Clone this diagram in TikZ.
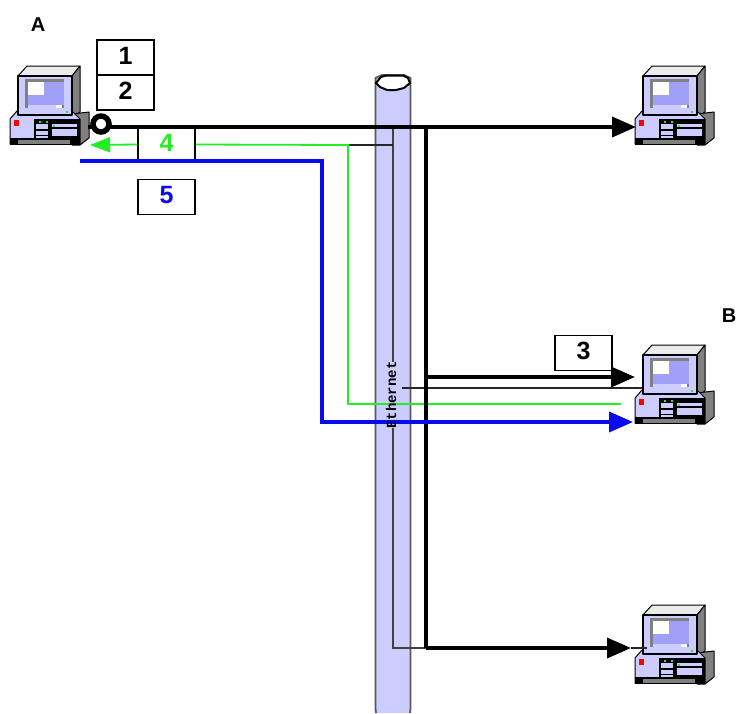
\documentclass[tikz,border=0pt]{standalone}
\usepackage{fontspec}
\setmainfont{Liberation Sans}
\setmonofont{Liberation Mono}
\usetikzlibrary{arrows.meta}
\definecolor{lav}{HTML}{CCCCFF}
\definecolor{peri}{HTML}{A0A0F8}
\definecolor{pcgray}{HTML}{808080}
\definecolor{lgreen}{HTML}{22EE22}
\definecolor{blueline}{HTML}{0A0AEE}
\tikzset{
  numbox/.style={draw=black,line width=1.5pt,fill=white,minimum width=57pt,minimum height=35pt,inner sep=0pt,font=\bfseries\fontsize{25}{25}\selectfont,text height=17pt,text depth=4pt},
  tag/.style={font=\bfseries\fontsize{20}{20}\selectfont,inner sep=0pt},
  heavy/.style={draw=black,line width=3.6pt},
  thin link/.style={draw=black!85,line width=1.6pt},
  mid link/.style={draw=black!75,line width=2.4pt},
  glink/.style={draw=lgreen,line width=1.8pt},
  blink/.style={draw=blueline,line width=3.8pt},
  headK/.style={-{Triangle[length=24pt,width=20pt]}},
  headG/.style={-{Triangle[length=20pt,width=15pt]}},
  pcline/.style={draw=black,line width=1pt,line join=round},
  pc/.pic={
    % monitor top and side
    \path[pcline,fill=white!92!black] (8,11) -- (17,1) -- (70,1) -- (62,11) -- cycle;
    \path[pcline,fill=pcgray] (62,11) -- (70,1) -- (70,47) -- (62,53) -- cycle;
    % base side and top
    \path[pcline,fill=pcgray] (62,49) -- (79,47) -- (79,73) -- (70,80) -- (62,80) -- cycle;
    \path[pcline,fill=lav] (0,54) -- (7,46) -- (62,46) -- (70,54) -- (70,79) -- (0,79) -- cycle;
    % monitor front
    \path[pcline,fill=lav,line width=1.4pt] (8,11) rectangle (62,50);
    \fill[pcgray] (15,14) rectangle (54,43);
    \fill[peri] (18,17) rectangle (54,40);
    \fill[white] (18,17) rectangle (34,30);
    \fill[lav] (18,40) rectangle (52,43);
    \fill[white] (46,40) rectangle (52,43);
    \fill[lgreen] (56,46) rectangle (58,48);
    % base details
    \fill[black] (24,54) rectangle (70,79);
    \fill[lav] (1,55) rectangle (24,74);
    \fill[black] (0,73) rectangle (70,80);
    \fill[pcgray] (8,75) rectangle (60,79);
    \fill[red] (4,55) rectangle (9,61);
    \fill[lav] (26,59) rectangle (38,64);
    \fill[lav] (26,66) rectangle (38,70);
    \fill[lav] (26,71) rectangle (38,73);
    \fill[lav] (42,59) rectangle (67,62);
    \fill[lav] (42,64) rectangle (67,71);
    \fill[lgreen] (29,56) rectangle (31,58);
    \fill[lgreen] (36,56) rectangle (38,58);
    \fill[lgreen] (43,60) rectangle (45,62);
  }
}
\begin{document}
\begin{tikzpicture}[x=1pt,y=-1pt]
\useasboundingbox (0,0) rectangle (739,713);
\fill[white] (0,0) rectangle (739,713);

% Ethernet cable
\path[draw=black!65,line width=1.8pt,fill=lav] (376,713) .. controls (375.5,711) and (375.5,708) .. (375.5,704) -- (375.5,84) -- (375.5,78) -- (382,75) -- (404,75) -- (410.5,78) -- (410.5,704) .. controls (410.5,708) and (410.5,711) .. (410,713);
\path[draw=black,line width=2pt,fill=white] (376,83) -- (381,77) -- (386,75.5) -- (403,75.5) -- (408,78) -- (410,83) -- (404,88) -- (396,90) -- (387,90) -- (380,87) -- cycle;

% computers
\pic at (10,65) {pc};
\pic at (635,65) {pc};
\pic at (635,344) {pc};
\pic at (635,604) {pc};

% connector anchors
\coordinate (jstart) at (88,127);
\coordinate (jtop) at (426,127);
\coordinate (jthin) at (393,127);
\coordinate (jthinB) at (393,648);
\coordinate (jthinC) at (393,145);
\coordinate (jmid) at (426,377);
\coordinate (jbot) at (426,648);
\coordinate (gturn) at (348,145);
\coordinate (gcorner) at (348,404);
\coordinate (gend) at (621,404);
\coordinate (blstart) at (80,161);
\coordinate (blturn) at (322,161);
\coordinate (blcorner) at (322,422);
\coordinate (blend) at (633,422);
\coordinate (ttop) at (636,127);
\coordinate (tmid) at (635,377);
\coordinate (tbot) at (631,648);
\coordinate (thinr) at (642,388);
\coordinate (thinl) at (402,388);
\coordinate (tbotthin) at (647,648);
\coordinate (eA) at (393,362);
\coordinate (eB) at (393,428);

% nodes
\node[numbox] (b1) at (125.5,57.5) {1};
\node[numbox] (b2) at (125.5,92.5) {2};
\node[numbox] (b3) at (583.5,353) {3};
\node[numbox,minimum height=32pt] (b4) at (166.5,144.5) {\textcolor{lgreen}{4}};
\node[numbox] (b5) at (166.5,197) {\textcolor{blueline}{5}};
\node[tag] (lA) at (38,25) {A};
\node[tag] (lB) at (729,316) {B};

% thin links
\draw[mid link] (jthin) -- (eA);
\draw[mid link] (eB) -- (jthinB) -- (jbot);
\draw[thin link] (gturn) -- (jthinC);
\draw[thin link] (thinl) -- (thinr);
\draw[thin link] (tbot) -- (tbotthin);

% green
\draw[glink] (b4.east) -- (gturn) -- (gcorner) -- (gend);
\draw[glink,headG] (b4.west) -- (90,145);

% heavy black
\draw[heavy,headK] (jstart) -- (ttop);
\draw[heavy] (jtop) -- (jbot);
\draw[heavy,headK] (jmid) -- (tmid);
\draw[heavy,headK] (jbot) -- (tbot);

% blue
\draw[blink,headK,line join=miter] (blstart) -- (blturn) -- (blcorner) -- (blend);

\node[circle,draw=black,line width=5.5pt,fill=white,minimum size=16pt,inner sep=0pt] (mark) at (101,124) {};
\node[rotate=90,font=\ttfamily\bfseries\fontsize{14}{14}\selectfont,inner sep=0pt,text=black] (eth) at (391,395) {Ethernet};
\end{tikzpicture}
\end{document}
